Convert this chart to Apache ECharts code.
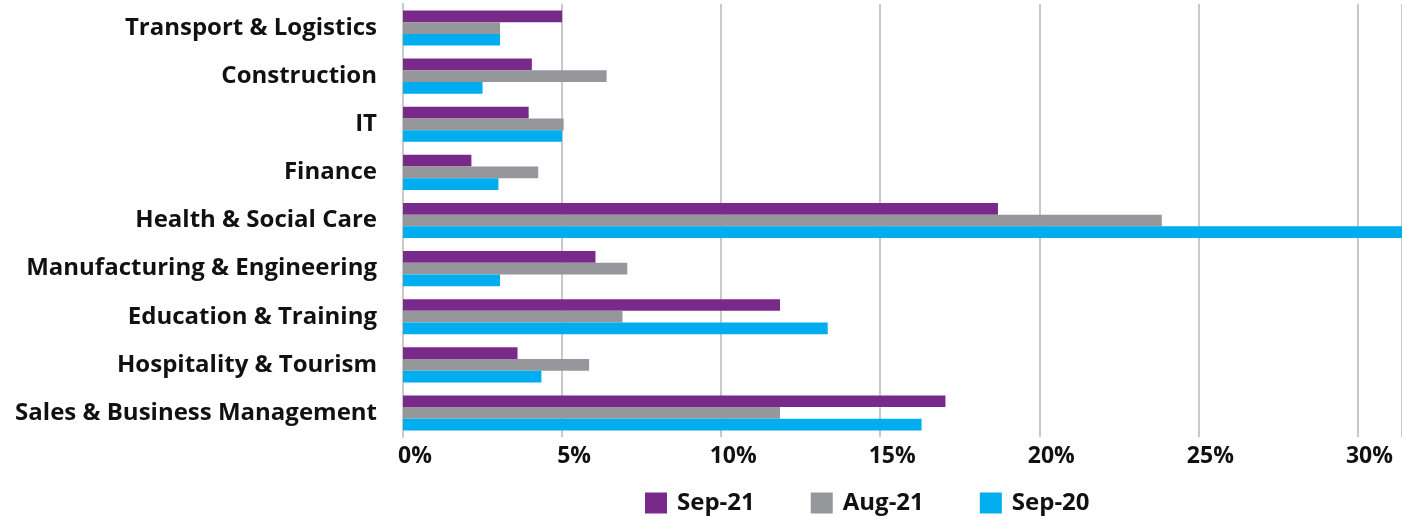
<!DOCTYPE html>
<html><head><meta charset="utf-8">
<script src="https://cdn.jsdelivr.net/npm/echarts@6/dist/echarts.min.js"></script>
<style>html,body{margin:0;padding:0;background:#fff}#c{width:1402px;height:517px}</style>
</head><body><div id="c"></div>
<script>
const categories = ["Transport & Logistics","Construction","IT","Finance","Health & Social Care","Manufacturing & Engineering","Education & Training","Hospitality & Tourism","Sales & Business Management"];
const seriesNames = ["Sep-21","Aug-21","Sep-20"];
const sep21 = [5.0, 4.05, 3.95, 2.15, 18.7, 6.05, 11.85, 3.6, 17.05];
const aug21 = [3.05, 6.4, 5.05, 4.25, 23.85, 7.05, 6.9, 5.85, 11.85];
const sep20 = [3.05, 2.5, 5.0, 3.0, 31.5, 3.05, 13.35, 4.35, 16.3];
const xTicks = [0,5,10,15,20,25,30];
const colors = ["#772a8a","#96979b","#00aeef"];
const font = "'Open Sans', sans-serif";
const chart = echarts.init(document.getElementById('c'));
const vals = [sep21, aug21, sep20];
chart.setOption({
  animation:false,
  grid:{left:403,right:0,top:4,bottom:80,containLabel:false},
  legend:{
    top:486,left:640,itemWidth:22,itemHeight:21,itemGap:56,
    textStyle:{fontFamily:font,fontWeight:'bold',fontSize:24,color:'#111',padding:[0,0,0,5]},
    data:seriesNames.map((n,i)=>({name:n,icon:'rect',itemStyle:{color:colors[i]}}))
  },
  xAxis:{type:'value',min:0,max:31.4,interval:5,
    axisLine:{show:false},axisTick:{show:false},
    splitLine:{show:true,lineStyle:{color:'#c9c9c9',width:2}},
    axisLabel:{showMaxLabel:false,formatter:v=>xTicks.includes(v)?v+'%':'',margin:8,
      padding:[0,0,0,24],
      fontFamily:font,fontWeight:'bold',fontSize:23,color:'#111'}
  },
  yAxis:{type:'category',inverse:true,data:categories,
    axisLine:{show:true,lineStyle:{color:'#c9c9c9',width:2}},axisTick:{show:false},
    axisLabel:{margin:26,fontFamily:font,fontWeight:'bold',fontSize:24,color:'#111'}
  },
  series:seriesNames.map((n,i)=>({name:n,type:'bar',data:vals[i],barGap:'0%',barCategoryGap:'27%',
    itemStyle:{color:colors[i]},clip:true}))
});
</script></body></html>
